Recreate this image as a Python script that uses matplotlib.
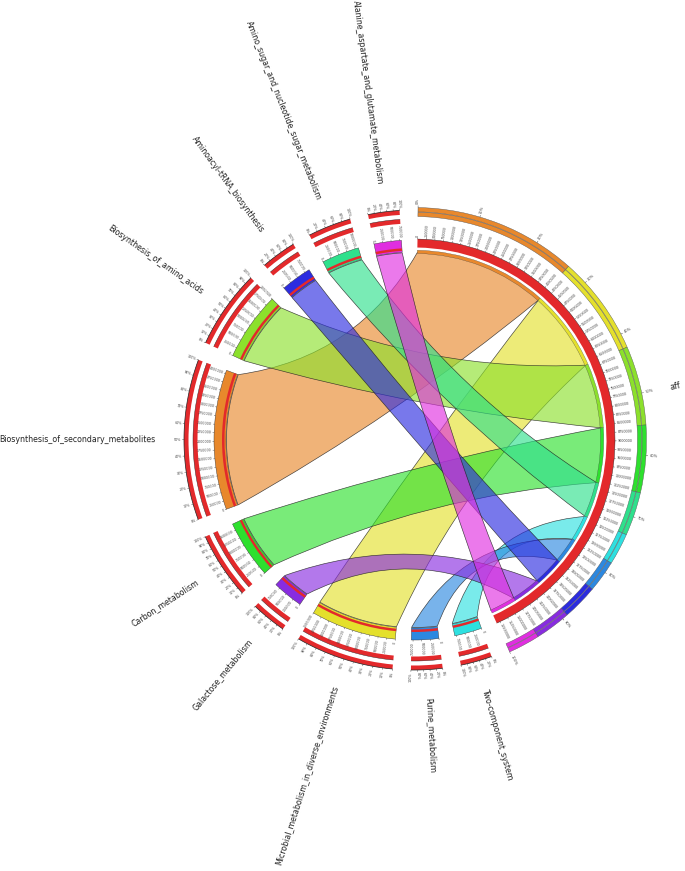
import numpy as np
import matplotlib
matplotlib.use("Agg")
import matplotlib.pyplot as plt
from matplotlib.patches import Wedge, PathPatch
from matplotlib.path import Path
from matplotlib.collections import LineCollection
from matplotlib.colors import to_rgba

# ---------------- data ----------------
hub_name = "aff"
pathways = [
    "Alanine_aspartate_and_glutamate_metabolism",
    "Amino_sugar_and_nucleotide_sugar_metabolism",
    "Aminoacyl-tRNA_biosynthesis",
    "Biosynthesis_of_amino_acids",
    "Biosynthesis_of_secondary_metabolites",
    "Carbon_metabolism",
    "Galactose_metabolism",
    "Microbial_metabolism_in_diverse_environments",
    "Purine_metabolism",
    "Two-component_system",
]
gene_counts = [8, 11, 9, 20, 41, 17, 9, 25, 8, 8]
pathway_colors = ["#e02ee0", "#2ee08c", "#2c2ce0", "#8ce02c", "#e8882c",
                  "#2ee02e", "#882ce0", "#e4e02c", "#2c88e0", "#2ee0e0"]
# order of the links along the hub segment (clockwise)
hub_order = [
    "Biosynthesis_of_secondary_metabolites",
    "Microbial_metabolism_in_diverse_environments",
    "Biosynthesis_of_amino_acids",
    "Carbon_metabolism",
    "Amino_sugar_and_nucleotide_sugar_metabolism",
    "Two-component_system",
    "Purine_metabolism",
    "Aminoacyl-tRNA_biosynthesis",
    "Galactose_metabolism",
    "Alanine_aspartate_and_glutamate_metabolism",
]

RED = "#e3292b"
count = dict(zip(pathways, gene_counts))
color = dict(zip(pathways, pathway_colors))

# ---------------- figure ----------------
W, H = 685, 871
CX, CY = 414, 440
fig = plt.figure(figsize=(6.85, 8.71), dpi=100)
ax = fig.add_axes([0, 0, 1, 1])
ax.set_xlim(-CX, W - CX)
ax.set_ylim(-(H - CY), CY)
ax.set_aspect("equal")
ax.axis("off")

GAP = 4.6
START = 1.0
total = sum(gene_counts)
dpu = (360 - GAP * (len(pathways) + 1)) / (2 * total)
PURITY = 0.65


def P(theta, r):
    t = np.deg2rad(theta)
    return np.array([r * np.sin(t), r * np.cos(t)])


def band(a1, a2, r_in, r_out, fc, ec="none", lw=0, z=3):
    ax.add_patch(Wedge((0, 0), r_out, 90 - a2, 90 - a1, width=r_out - r_in,
                       facecolor=fc, edgecolor=ec, linewidth=lw, zorder=z))


def arcline(a1, a2, r, c="#222222", lw=0.4, z=4):
    th = np.linspace(a1, a2, 60)
    pts = np.array([P(t, r) for t in th])
    ax.plot(pts[:, 0], pts[:, 1], color=c, lw=lw, zorder=z, solid_capstyle="butt")


def radial_text(theta, r, s, fs, color="#333333", weight="normal", z=5):
    x, y = P(theta, r)
    th = theta % 360
    if th < 180:
        rot, ha = 90 - th, "left"
    else:
        rot, ha = 270 - th, "right"
    ax.text(x, y, s, rotation=rot, ha=ha, va="center", rotation_mode="anchor",
            fontsize=fs, color=color, fontweight=weight, zorder=z)


# segment layout
hub_a1 = START
hub_a2 = START + total * dpu
seg = {}
pos = hub_a2
for name in reversed(pathways):
    pos += GAP
    seg[name] = (pos, pos + count[name] * dpu)
    pos = seg[name][1]

link_hub = {}
cur = hub_a1
for name in hub_order:
    link_hub[name] = (cur, cur + count[name] * dpu)
    cur = link_hub[name][1]

# ---------------- ribbons ----------------
R0 = 187.5
N = 40
for name in hub_order:
    b1, b2 = link_hub[name]
    a1, a2 = seg[name]
    arc_b = [P(t, R0) for t in np.linspace(b1, b2, N)]
    arc_a = [P(t, R0) for t in np.linspace(a1, a2, N)]
    c1 = PURITY * (arc_b[-1] + arc_a[0]) / 2
    c2 = PURITY * (arc_a[-1] + arc_b[0]) / 2
    verts = arc_b + [c1, arc_a[0]] + arc_a[1:] + [c2, arc_b[0], arc_b[0]]
    codes = ([Path.MOVETO] + [Path.LINETO] * (N - 1) + [Path.CURVE3, Path.CURVE3]
             + [Path.LINETO] * (N - 1) + [Path.CURVE3, Path.CURVE3, Path.CLOSEPOLY])
    ax.add_patch(PathPatch(Path(verts, codes), facecolor=to_rgba(color[name], 0.64),
                           edgecolor=(0.12, 0.12, 0.12, 0.85), linewidth=0.45, zorder=2))

tick_segs = []
TICK_C = "#444444"

# ---------------- hub segment ----------------
for name in hub_order:
    b1, b2 = link_hub[name]
    band(b1, b2, 186.5, 189.8, color[name], ec="#444444", lw=0.2)
    band(b1, b2, 223.5, 227.8, color[name], ec="#555555", lw=0.3)
    band(b1, b2, 228.2, 232.5, color[name], ec="#555555", lw=0.3)
band(hub_a1, hub_a2, 192.5, 201.0, RED)
arcline(hub_a1, hub_a2, 201.0, lw=0.3)
for v in np.arange(0, total + 0.01, 2.5):
    th = hub_a1 + v * dpu
    tick_segs.append([P(th, 201), P(th, 202.5)])
    radial_text(th, 203.5, f"{int(v * 100000)}", 2.4, color=TICK_C)
for p in range(0, 101, 10):
    th = hub_a1 + p / 100 * total * dpu
    tick_segs.append([P(th, 232.5), P(th, 234.5)])
    radial_text(th, 236, f"{p}%", 2.6, color=TICK_C)
radial_text((hub_a1 + hub_a2) / 2, 261, hub_name, 5.8, color="#222222")

# ---------------- pathway segments ----------------
for name in pathways:
    a1, a2 = seg[name]
    band(a1, a2, 188.0, 200.0, color[name], ec="#333333", lw=0.3)
    band(a1, a2, 189.5, 192.0, RED)
    band(a1, a2, 216.5, 221.0, RED)
    band(a1, a2, 225.5, 230.0, RED)
    arcline(a1, a2, 221.0, lw=0.3)
    arcline(a1, a2, 230.0, lw=0.5)
    for v in np.arange(0, count[name] + 0.01, 2.5):
        th = a1 + v * dpu
        tick_segs.append([P(th, 200), P(th, 201.5)])
        radial_text(th, 202.5, f"{int(v * 100000)}", 2.3, color=TICK_C)
    step = 10 if count[name] >= 15 else 20
    for p in range(0, 101, step):
        th = a1 + p / 100 * count[name] * dpu
        tick_segs.append([P(th, 230), P(th, 231.8)])
        radial_text(th, 232.5, f"{p}%", 2.4, color=TICK_C)
    radial_text((a1 + a2) / 2, 258, name, 5.7, color="#222222")

ax.add_collection(LineCollection(tick_segs, colors="#333333", linewidths=0.3, zorder=4))

fig.savefig("out.png", dpi=100, facecolor="white")
